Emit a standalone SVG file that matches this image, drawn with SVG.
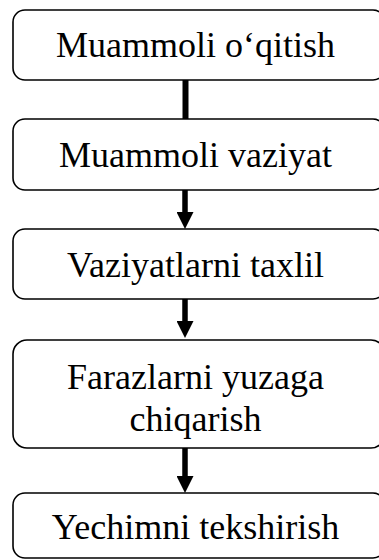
<svg xmlns="http://www.w3.org/2000/svg" width="379" height="560" viewBox="0 0 379 560">
<style>
.box{fill:#fff;stroke:#000;stroke-width:1.6}
.lbl{font-size:36px;fill:#000;text-anchor:middle}
.conn{stroke:#000;stroke-width:5.5;fill:none}
</style>
<defs>
<marker id="ah" viewBox="0 0 17 17" refX="0" refY="8.5" markerWidth="17" markerHeight="17" markerUnits="userSpaceOnUse" orient="auto">
<path d="M0,0 L17,8.5 L0,17 Z" fill="#000"/>
</marker>
</defs>
<rect width="379" height="560" fill="#fff"/>
<g font-family="Liberation Serif, serif">
<g id="n1"><rect class="box" x="13" y="10" width="372" height="70" rx="12"/><text class="lbl" x="195.5" y="57">Muammoli o‘qitish</text></g>
<g id="n2"><rect class="box" x="13" y="119" width="372" height="71" rx="12"/><text class="lbl" x="195.5" y="167">Muammoli vaziyat</text></g>
<g id="n3"><rect class="box" x="13" y="229" width="372" height="70" rx="12"/><text class="lbl" x="195.5" y="277">Vaziyatlarni taxlil</text></g>
<g id="n4"><rect class="box" x="13" y="340" width="372" height="108" rx="14"/><text class="lbl" x="195.5" y="389">Farazlarni yuzaga</text><text class="lbl" x="195.5" y="431">chiqarish</text></g>
<g id="n5"><rect class="box" x="13" y="493" width="372" height="65" rx="12"/><text class="lbl" x="195.5" y="539">Yechimni tekshirish</text></g>
</g>
<g id="connectors">
<line class="conn" x1="185.5" y1="80" x2="185.5" y2="119" style="stroke-width:6"/>
<line class="conn" x1="185" y1="190" x2="185" y2="212" marker-end="url(#ah)"/>
<line class="conn" x1="185" y1="299" x2="185" y2="321" marker-end="url(#ah)"/>
<line class="conn" x1="185" y1="448" x2="185" y2="476" marker-end="url(#ah)"/>
</g>
</svg>
